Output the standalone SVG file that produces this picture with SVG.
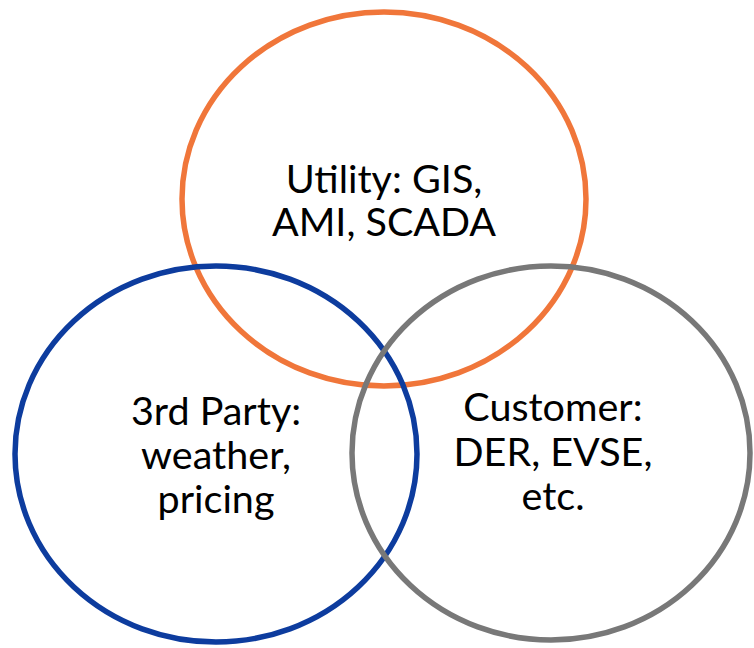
<svg xmlns="http://www.w3.org/2000/svg" width="754" height="648" viewBox="0 0 754 648">
<style>
.c{fill:none;stroke-width:5.5}
.t{font-family:"Lato","Liberation Sans",sans-serif;font-size:39.5px;fill:#000;text-anchor:middle}
</style>
<rect width="754" height="648" fill="#fff"/>
<g id="utility">
<ellipse class="c" cx="384" cy="199" rx="202" ry="187" stroke="#F0763A"/>
<text class="t"><tspan x="384" y="193">Utility: GIS,</tspan><tspan x="384" y="236">AMI, SCADA</tspan></text>
</g>
<g id="thirdparty">
<ellipse class="c" cx="216" cy="454" rx="201" ry="188" stroke="#0D3C9E"/>
<text class="t"><tspan x="216" y="425">3rd Party:</tspan><tspan x="216" y="469">weather,</tspan><tspan x="216" y="513">pricing</tspan></text>
</g>
<g id="customer">
<ellipse class="c" cx="551" cy="453" rx="199" ry="187" stroke="#787878"/>
<text class="t"><tspan x="553" y="421">Customer:</tspan><tspan x="553" y="466">DER, EVSE,</tspan><tspan x="553" y="510">etc.</tspan></text>
</g>
<g id="connectors"/>
</svg>
